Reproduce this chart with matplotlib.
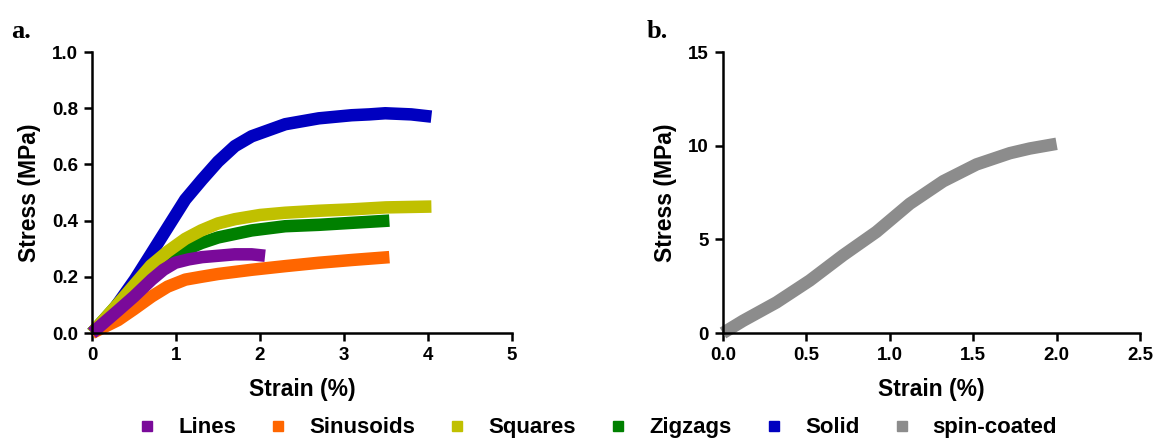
import numpy as np
import matplotlib
matplotlib.use("Agg")
import matplotlib.pyplot as plt
from matplotlib.lines import Line2D

plt.rcParams['font.family'] = ['Liberation Sans', 'DejaVu Sans']
plt.rcParams['font.weight'] = 'bold'

# panel a: strain (%) vs stress (MPa)
lines_x = [0, 0.31, 0.5, 0.71, 0.85, 0.99, 1.15, 1.31, 1.7, 1.9, 2.06]
lines_y = [0, 0.08, 0.13, 0.19, 0.225, 0.25, 0.262, 0.27, 0.28, 0.28, 0.275]

sinus_x = [0, 0.31, 0.5, 0.71, 0.9, 1.11, 1.3, 1.5, 1.9, 2.3, 2.7, 3.1, 3.54]
sinus_y = [0, 0.046, 0.085, 0.13, 0.165, 0.19, 0.20, 0.21, 0.225, 0.238, 0.25, 0.26, 0.27]

squares_x = [0, 0.3, 0.7, 0.9, 1.11, 1.3, 1.5, 1.7, 2.0, 2.3, 2.7, 3.09, 3.5, 4.04]
squares_y = [0, 0.10, 0.24, 0.29, 0.335, 0.365, 0.39, 0.405, 0.42, 0.428, 0.435, 0.44, 0.447, 0.45]

zigzag_x = [0, 0.3, 0.7, 0.9, 1.11, 1.3, 1.5, 1.9, 2.3, 2.7, 3.09, 3.54]
zigzag_y = [0, 0.10, 0.22, 0.26, 0.295, 0.32, 0.34, 0.365, 0.38, 0.385, 0.392, 0.40]

solid_x = [0, 0.25, 0.51, 0.7, 0.91, 1.11, 1.31, 1.5, 1.7, 1.9, 2.3, 2.7, 3.09, 3.3, 3.49, 3.8, 4.04]
solid_y = [0, 0.08, 0.19, 0.28, 0.38, 0.475, 0.546, 0.61, 0.665, 0.70, 0.743, 0.764, 0.775,
           0.778, 0.782, 0.778, 0.77]

# panel b: spin-coated film
spin_x = [0, 0.12, 0.32, 0.52, 0.72, 0.92, 1.12, 1.32, 1.52, 1.72, 1.84, 2.0]
spin_y = [0, 0.65, 1.63, 2.8, 4.15, 5.4, 6.9, 8.1, 9.0, 9.6, 9.85, 10.1]

c_lines = '#7a0a9a'
c_sinus = '#ff6600'
c_squares = '#c0c000'
c_zigzag = '#008000'
c_solid = '#0000c0'
c_spin = '#8c8c8c'

fig = plt.figure(figsize=(11.59, 4.43), dpi=100)
ax1 = fig.add_axes([0.0794, 0.2483, 0.3624, 0.6343])
ax2 = fig.add_axes([0.6238, 0.2483, 0.3598, 0.6343])

lw = 9
series_a = [
    (solid_x, solid_y, c_solid),
    (zigzag_x, zigzag_y, c_zigzag),
    (squares_x, squares_y, c_squares),
    (sinus_x, sinus_y, c_sinus),
    (lines_x, lines_y, c_lines),
]
for x, y, c in series_a:
    ax1.plot(x, y, color=c, lw=lw, solid_capstyle='butt', solid_joinstyle='round', clip_on=False)
ax2.plot(spin_x, spin_y, color=c_spin, lw=lw, solid_capstyle='butt',
         solid_joinstyle='round', clip_on=False)


def style(ax):
    for s in ['top', 'right']:
        ax.spines[s].set_visible(False)
    for s in ['left', 'bottom']:
        ax.spines[s].set_linewidth(1.8)
    ax.tick_params(width=1.8, length=6, labelsize=13.5, direction='out', pad=4)
    for lab in ax.get_xticklabels() + ax.get_yticklabels():
        lab.set_fontweight('bold')
    ax.set_xlabel('Strain (%)', fontsize=16.5, fontweight='bold', labelpad=10)
    ax.set_ylabel('Stress (MPa)', fontsize=16.5, fontweight='bold', labelpad=8)


ax1.set_xlim(0, 5)
ax1.set_ylim(0, 1.0)
ax1.set_xticks([0, 1, 2, 3, 4, 5])
ax1.set_yticks([0, 0.2, 0.4, 0.6, 0.8, 1.0])
ax1.set_yticklabels(['0.0', '0.2', '0.4', '0.6', '0.8', '1.0'])
style(ax1)

ax2.set_xlim(0, 2.5)
ax2.set_ylim(0, 15)
ax2.set_xticks([0, 0.5, 1.0, 1.5, 2.0, 2.5])
ax2.set_xticklabels(['0.0', '0.5', '1.0', '1.5', '2.0', '2.5'])
ax2.set_yticks([0, 5, 10, 15])
style(ax2)

fig.text(0.010, 0.915, 'a.', fontsize=19, fontweight='bold', family='Liberation Serif')
fig.text(0.558, 0.915, 'b.', fontsize=19, fontweight='bold', family='Liberation Serif')

labels = ['Lines', 'Sinusoids', 'Squares', 'Zigzags', 'Solid', 'spin-coated']
colors = [c_lines, c_sinus, c_squares, c_zigzag, c_solid, c_spin]
handles = [Line2D([], [], ls='none', marker='s', markersize=7, color=c) for c in colors]
fig.legend(handles, labels, loc='center', bbox_to_anchor=(0.5147, 0.034), ncol=6,
           frameon=False, prop={'weight': 'bold', 'size': 16},
           handletextpad=0.9, columnspacing=1.4, handlelength=1.0,
           borderpad=0, borderaxespad=0)

fig.savefig('out.png', dpi=100)
